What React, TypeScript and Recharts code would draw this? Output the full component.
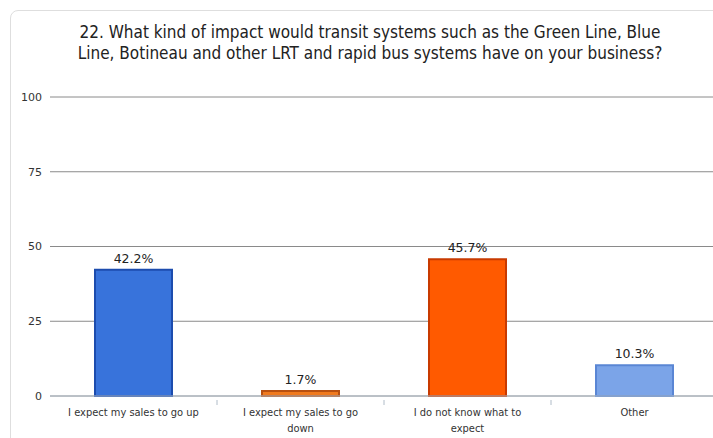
import { BarChart, Bar, XAxis, YAxis, CartesianGrid, Cell, LabelList } from 'recharts';

const categories = [
  'I expect my sales to go up',
  'I expect my sales to go\ndown',
  'I do not know what to\nexpect',
  'Other',
];
const percents = [42.2, 1.7, 45.7, 10.3];
const yTicks = [0, 25, 50, 75, 100];
const fills = ['#3873db', '#f07a1e', '#ff5a00', '#7ba4e8'];
const strokes = ['#1c4cae', '#b85010', '#c83a00', '#5a86d4'];

const data = categories.map((name, i) => ({ name, value: percents[i] }));

const FONT = '"DejaVu Sans", sans-serif';
const PLOT_LEFT = 50;
const CHART_W = 718;
const HALF_BAND = (CHART_W - PLOT_LEFT) / categories.length / 2;

const CategoryTick = (props: any) => {
  const { x, y, payload, index } = props;
  const lines = String(payload.value).split('\n');
  return (
    <g>
      {index < categories.length - 1 && (
        <line x1={x + HALF_BAND} x2={x + HALF_BAND} y1={y - 4} y2={y + 1} stroke="#b0bcc8" />
      )}
      <text
        x={x}
        y={y + 12}
        textAnchor="middle"
        fontSize={11}
        fontFamily={FONT}
        fill="#333"
        style={{ fontStretch: 'condensed' }}
      >
        {lines.map((l, i) => (
          <tspan key={i} x={x} dy={i === 0 ? 0 : 16}>
            {l}
          </tspan>
        ))}
      </text>
    </g>
  );
};

export default function App() {
  return (
    <div style={{ position: 'absolute', left: 0, top: 0, width: 713, height: 438, overflow: 'hidden', background: '#fff' }}>
      <div
        style={{
          position: 'absolute',
          left: 10,
          top: 10,
          width: 720,
          height: 440,
          border: '1px solid #dedede',
          borderRadius: 8,
        }}
      />
      <div
        style={{
          position: 'absolute',
          left: 40,
          top: 22,
          width: 660,
          textAlign: 'center',
          fontFamily: FONT,
          fontSize: 17,
          fontStretch: 'condensed',
          lineHeight: '21px',
          color: '#222',
        }}
      >
        22. What kind of impact would transit systems such as the Green Line, Blue
        <br />
        Line, Botineau and other LRT and rapid bus systems have on your business?
      </div>
      <div style={{ position: 'absolute', left: 0, top: 0 }}>
        <BarChart
          width={CHART_W}
          height={438}
          data={data}
          margin={{ top: 97, right: 0, left: 0, bottom: 0 }}
        >
          <CartesianGrid vertical={false} stroke="#8a8a8a" />
          <XAxis
            dataKey="name"
            height={42}
            interval={0}
            axisLine={{ stroke: '#b0bcc8' }}
            tickLine={false}
            tick={<CategoryTick />}
          />
          <YAxis
            width={PLOT_LEFT}
            domain={[0, 100]}
            ticks={yTicks}
            axisLine={false}
            tickLine={false}
            tickSize={0}
            tickMargin={8}
            tick={{ fontSize: 11, fontFamily: FONT, fill: '#333' }}
          />
          <Bar dataKey="value" barSize={77} isAnimationActive={false} strokeWidth={2}>
            {data.map((d, i) => (
              <Cell key={d.name} fill={fills[i]} stroke={strokes[i]} />
            ))}
            <LabelList
              dataKey="value"
              position="top"
              offset={7}
              formatter={(v: any) => `${v}%`}
              style={{ fontSize: 12.5, fontFamily: FONT, fill: '#222' }}
            />
          </Bar>
        </BarChart>
      </div>
    </div>
  );
}
